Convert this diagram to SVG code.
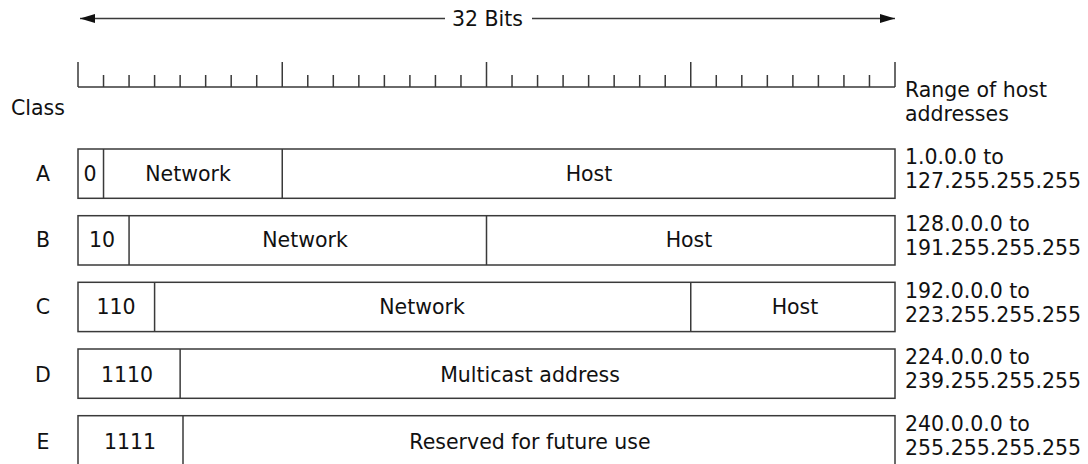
<svg xmlns="http://www.w3.org/2000/svg" width="1088" height="464" viewBox="0 0 1088 464">
<style>
.t{font-family:"DejaVu Sans","Liberation Sans",sans-serif;font-size:20.5px;fill:#111}
.m{text-anchor:middle}
.ln{stroke:#3a3a3a;stroke-width:1.5;fill:none}
.box{stroke:#3a3a3a;stroke-width:1.5;fill:#fff}
</style>
<defs>
<marker id="ah" markerUnits="userSpaceOnUse" markerWidth="16" markerHeight="10" refX="15" refY="5" orient="auto-start-reverse" viewBox="0 0 16 10">
<path d="M0,0.5 L15,5 L0,9.5 Z" fill="#111"/>
</marker>
</defs>
<rect width="1088" height="464" fill="#fff"/>
<g id="connectors">
<line class="ln" x1="80" y1="18.5" x2="445" y2="18.5" marker-start="url(#ah)"/>
<line class="ln" x1="532" y1="18.5" x2="895" y2="18.5" marker-end="url(#ah)"/>
</g>
<g id="bits-label"><text class="t m" x="487.5" y="26">32 Bits</text></g>
<g id="ruler">
<path class="ln" d="M78,87 H895 M78,62 V87 M282.25,62 V87 M486.5,62 V87 M690.75,62 V87 M895,62 V87
M103.53,75 V87 M129.06,75 V87 M154.59,75 V87 M180.13,75 V87 M205.66,75 V87 M231.19,75 V87 M256.72,75 V87
M307.78,75 V87 M333.31,75 V87 M358.84,75 V87 M384.38,75 V87 M409.91,75 V87 M435.44,75 V87 M460.97,75 V87
M512.03,75 V87 M537.56,75 V87 M563.09,75 V87 M588.63,75 V87 M614.16,75 V87 M639.69,75 V87 M665.22,75 V87
M716.28,75 V87 M741.81,75 V87 M767.34,75 V87 M792.88,75 V87 M818.41,75 V87 M843.94,75 V87 M869.47,75 V87"/>
</g>
<g id="class-header"><text class="t" x="11" y="115">Class</text></g>
<g id="range-header"><text class="t" x="905" y="97">Range of host</text><text class="t" x="905" y="121">addresses</text></g>
<g id="class-A">
<text class="t m" x="43" y="180.5">A</text>
<rect class="box" x="78" y="149" width="817" height="49.3"/>
<path class="ln" d="M103.53,149 V198.3 M282.25,149 V198.3"/>
<text class="t m" x="90" y="180.5">0</text>
<text class="t m" x="188" y="180.5">Network</text>
<text class="t m" x="589" y="180.5">Host</text>
<text class="t" x="905" y="164">1.0.0.0 to</text>
<text class="t" x="905" y="188">127.255.255.255</text>
</g>
<g id="class-B">
<text class="t m" x="43" y="247">B</text>
<rect class="box" x="78" y="215.7" width="817" height="49.3"/>
<path class="ln" d="M129.06,215.7 V265 M486.5,215.7 V265"/>
<text class="t m" x="102" y="247">10</text>
<text class="t m" x="305" y="247">Network</text>
<text class="t m" x="689" y="247">Host</text>
<text class="t" x="905" y="231">128.0.0.0 to</text>
<text class="t" x="905" y="255">191.255.255.255</text>
</g>
<g id="class-C">
<text class="t m" x="43" y="314">C</text>
<rect class="box" x="78" y="282.3" width="817" height="49.3"/>
<path class="ln" d="M154.59,282.3 V331.6 M690.75,282.3 V331.6"/>
<text class="t m" x="116" y="314">110</text>
<text class="t m" x="422" y="314">Network</text>
<text class="t m" x="795" y="314">Host</text>
<text class="t" x="905" y="297.5">192.0.0.0 to</text>
<text class="t" x="905" y="321.5">223.255.255.255</text>
</g>
<g id="class-D">
<text class="t m" x="43" y="381.5">D</text>
<rect class="box" x="78" y="349" width="817" height="49.3"/>
<path class="ln" d="M180.13,349 V398.3"/>
<text class="t m" x="127" y="381.5">1110</text>
<text class="t m" x="530" y="381.5">Multicast address</text>
<text class="t" x="905" y="364">224.0.0.0 to</text>
<text class="t" x="905" y="388">239.255.255.255</text>
</g>
<g id="class-E">
<text class="t m" x="43" y="448.5">E</text>
<rect class="box" x="78" y="415.7" width="817" height="49.3"/>
<path class="ln" d="M183,415.7 V465"/>
<text class="t m" x="130" y="448.5">1111</text>
<text class="t m" x="530" y="448.5">Reserved for future use</text>
<text class="t" x="905" y="431">240.0.0.0 to</text>
<text class="t" x="905" y="455">255.255.255.255</text>
</g>
</svg>
